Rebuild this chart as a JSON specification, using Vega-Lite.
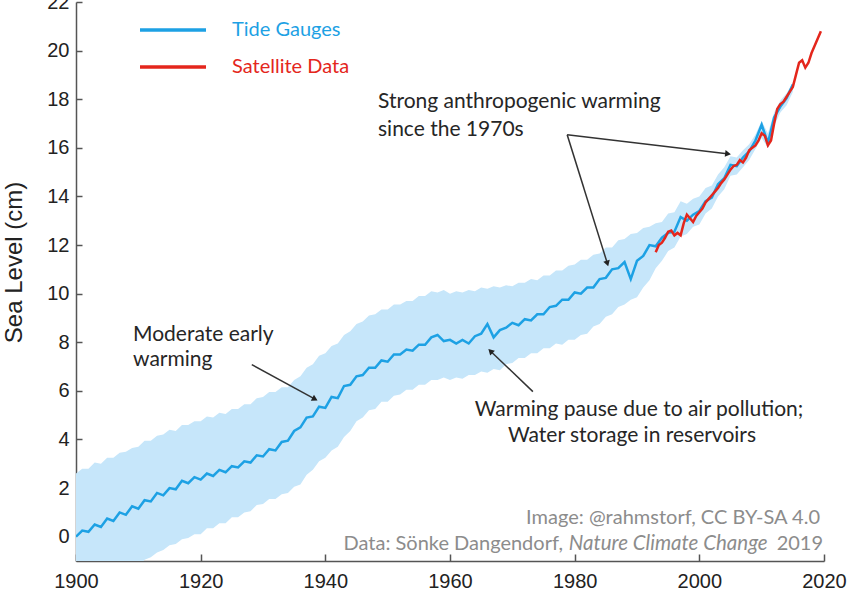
{
  "$schema": "https://vega.github.io/schema/vega-lite/v6.json",
  "width": 748,
  "height": 559,
  "autosize": {"type": "none"},
  "padding": {"left": 76, "top": 2, "right": 26, "bottom": 31},
  "background": "white",
  "config": {"view": {"stroke": null}},
  "datasets": {
    "tg": [
      {"year":1900,"level":0.0,"lo":-2.6,"hi":2.6},
      {"year":1901,"level":0.25,"lo":-2.45,"hi":2.8},
      {"year":1902,"level":0.2,"lo":-2.35,"hi":2.8},
      {"year":1903,"level":0.5,"lo":-2.15,"hi":3.05},
      {"year":1904,"level":0.4,"lo":-2.1,"hi":3.0},
      {"year":1905,"level":0.75,"lo":-1.9,"hi":3.25},
      {"year":1906,"level":0.65,"lo":-1.85,"hi":3.25},
      {"year":1907,"level":1.0,"lo":-1.6,"hi":3.45},
      {"year":1908,"level":0.9,"lo":-1.55,"hi":3.5},
      {"year":1909,"level":1.25,"lo":-1.35,"hi":3.65},
      {"year":1910,"level":1.15,"lo":-1.25,"hi":3.7},
      {"year":1911,"level":1.5,"lo":-0.95,"hi":3.95},
      {"year":1912,"level":1.45,"lo":-0.85,"hi":3.95},
      {"year":1913,"level":1.8,"lo":-0.65,"hi":4.15},
      {"year":1914,"level":1.7,"lo":-0.55,"hi":4.2},
      {"year":1915,"level":2.0,"lo":-0.35,"hi":4.4},
      {"year":1916,"level":1.95,"lo":-0.3,"hi":4.35},
      {"year":1917,"level":2.3,"lo":-0.1,"hi":4.6},
      {"year":1918,"level":2.2,"lo":-0.05,"hi":4.6},
      {"year":1919,"level":2.45,"lo":0.1,"hi":4.75},
      {"year":1920,"level":2.35,"lo":0.1,"hi":4.75},
      {"year":1921,"level":2.6,"lo":0.35,"hi":4.95},
      {"year":1922,"level":2.5,"lo":0.35,"hi":4.9},
      {"year":1923,"level":2.75,"lo":0.55,"hi":5.1},
      {"year":1924,"level":2.65,"lo":0.55,"hi":5.05},
      {"year":1925,"level":2.9,"lo":0.8,"hi":5.25},
      {"year":1926,"level":2.85,"lo":0.8,"hi":5.25},
      {"year":1927,"level":3.1,"lo":1.0,"hi":5.45},
      {"year":1928,"level":3.05,"lo":1.05,"hi":5.45},
      {"year":1929,"level":3.35,"lo":1.3,"hi":5.7},
      {"year":1930,"level":3.3,"lo":1.35,"hi":5.75},
      {"year":1931,"level":3.6,"lo":1.55,"hi":5.95},
      {"year":1932,"level":3.55,"lo":1.55,"hi":5.95},
      {"year":1933,"level":3.9,"lo":1.75,"hi":6.15},
      {"year":1934,"level":3.95,"lo":1.8,"hi":6.15},
      {"year":1935,"level":4.35,"lo":2.05,"hi":6.45},
      {"year":1936,"level":4.5,"lo":2.15,"hi":6.6},
      {"year":1937,"level":4.9,"lo":2.55,"hi":6.95},
      {"year":1938,"level":4.95,"lo":2.75,"hi":7.1},
      {"year":1939,"level":5.35,"lo":3.1,"hi":7.45},
      {"year":1940,"level":5.3,"lo":3.25,"hi":7.55},
      {"year":1941,"level":5.75,"lo":3.55,"hi":7.85},
      {"year":1942,"level":5.7,"lo":3.7,"hi":7.95},
      {"year":1943,"level":6.2,"lo":4.1,"hi":8.3},
      {"year":1944,"level":6.25,"lo":4.35,"hi":8.45},
      {"year":1945,"level":6.6,"lo":4.75,"hi":8.75},
      {"year":1946,"level":6.65,"lo":4.9,"hi":8.85},
      {"year":1947,"level":6.95,"lo":5.2,"hi":9.1},
      {"year":1948,"level":6.95,"lo":5.25,"hi":9.15},
      {"year":1949,"level":7.25,"lo":5.55,"hi":9.35},
      {"year":1950,"level":7.2,"lo":5.55,"hi":9.35},
      {"year":1951,"level":7.5,"lo":5.8,"hi":9.55},
      {"year":1952,"level":7.5,"lo":5.85,"hi":9.55},
      {"year":1953,"level":7.7,"lo":6.05,"hi":9.7},
      {"year":1954,"level":7.65,"lo":6.05,"hi":9.7},
      {"year":1955,"level":7.9,"lo":6.25,"hi":9.9},
      {"year":1956,"level":7.9,"lo":6.25,"hi":9.9},
      {"year":1957,"level":8.2,"lo":6.45,"hi":10.1},
      {"year":1958,"level":8.3,"lo":6.45,"hi":10.05},
      {"year":1959,"level":8.05,"lo":6.55,"hi":10.15},
      {"year":1960,"level":8.1,"lo":6.45,"hi":10.0},
      {"year":1961,"level":7.95,"lo":6.55,"hi":10.1},
      {"year":1962,"level":8.1,"lo":6.5,"hi":10.05},
      {"year":1963,"level":7.95,"lo":6.65,"hi":10.15},
      {"year":1964,"level":8.25,"lo":6.65,"hi":10.1},
      {"year":1965,"level":8.35,"lo":6.8,"hi":10.25},
      {"year":1966,"level":8.75,"lo":6.75,"hi":10.2},
      {"year":1967,"level":8.2,"lo":6.9,"hi":10.3},
      {"year":1968,"level":8.5,"lo":6.85,"hi":10.25},
      {"year":1969,"level":8.6,"lo":7.1,"hi":10.35},
      {"year":1970,"level":8.8,"lo":7.15,"hi":10.3},
      {"year":1971,"level":8.7,"lo":7.35,"hi":10.45},
      {"year":1972,"level":8.95,"lo":7.35,"hi":10.45},
      {"year":1973,"level":8.9,"lo":7.55,"hi":10.6},
      {"year":1974,"level":9.15,"lo":7.55,"hi":10.55},
      {"year":1975,"level":9.15,"lo":7.75,"hi":10.75},
      {"year":1976,"level":9.45,"lo":7.75,"hi":10.75},
      {"year":1977,"level":9.5,"lo":7.95,"hi":10.95},
      {"year":1978,"level":9.75,"lo":7.9,"hi":10.95},
      {"year":1979,"level":9.75,"lo":8.1,"hi":11.15},
      {"year":1980,"level":10.05,"lo":8.1,"hi":11.2},
      {"year":1981,"level":10.0,"lo":8.3,"hi":11.4},
      {"year":1982,"level":10.25,"lo":8.35,"hi":11.4},
      {"year":1983,"level":10.25,"lo":8.65,"hi":11.6},
      {"year":1984,"level":10.6,"lo":8.75,"hi":11.65},
      {"year":1985,"level":10.65,"lo":9.05,"hi":11.9},
      {"year":1986,"level":11.0,"lo":9.15,"hi":11.9},
      {"year":1987,"level":11.05,"lo":9.45,"hi":12.2},
      {"year":1988,"level":11.3,"lo":9.55,"hi":12.25},
      {"year":1989,"level":10.6,"lo":9.75,"hi":12.45},
      {"year":1990,"level":11.35,"lo":9.85,"hi":12.5},
      {"year":1991,"level":11.55,"lo":10.25,"hi":12.7},
      {"year":1992,"level":12.0,"lo":10.55,"hi":12.75},
      {"year":1993,"level":11.95,"lo":11.05,"hi":12.9},
      {"year":1994,"level":12.3,"lo":11.35,"hi":12.95},
      {"year":1995,"level":12.5,"lo":11.75,"hi":13.3},
      {"year":1996,"level":12.55,"lo":11.9,"hi":13.35},
      {"year":1997,"level":13.15,"lo":12.35,"hi":13.8},
      {"year":1998,"level":13.0,"lo":12.45,"hi":13.7},
      {"year":1999,"level":13.25,"lo":12.75,"hi":13.9},
      {"year":2000,"level":13.4,"lo":12.85,"hi":14.0},
      {"year":2001,"level":13.8,"lo":13.3,"hi":14.35},
      {"year":2002,"level":13.95,"lo":13.5,"hi":14.45},
      {"year":2003,"level":14.5,"lo":14.0,"hi":14.9},
      {"year":2004,"level":14.75,"lo":14.3,"hi":15.2},
      {"year":2005,"level":15.3,"lo":14.85,"hi":15.65},
      {"year":2006,"level":15.25,"lo":14.9,"hi":15.6},
      {"year":2007,"level":15.6,"lo":15.2,"hi":15.9},
      {"year":2008,"level":15.85,"lo":15.5,"hi":16.15},
      {"year":2009,"level":16.3,"lo":15.95,"hi":16.55},
      {"year":2010,"level":16.95,"lo":16.4,"hi":17.1},
      {"year":2011,"level":16.2,"lo":16.0,"hi":16.6},
      {"year":2012,"level":17.25,"lo":16.9,"hi":17.45},
      {"year":2013,"level":17.7,"lo":17.45,"hi":17.95},
      {"year":2014,"level":18.05,"lo":17.75,"hi":18.25},
      {"year":2015,"level":18.6,"lo":18.3,"hi":18.7}
    ],
    "sat": [
      {"year":1993.0,"level":11.7},{"year":1993.5,"level":12.0},{"year":1994.0,"level":12.1},{"year":1994.5,"level":12.3},
      {"year":1995.0,"level":12.55},{"year":1995.5,"level":12.6},{"year":1996.0,"level":12.4},{"year":1996.5,"level":12.5},
      {"year":1997.0,"level":12.4},{"year":1997.5,"level":12.9},{"year":1998.0,"level":13.25},{"year":1998.5,"level":13.1},
      {"year":1999.0,"level":12.95},{"year":1999.5,"level":13.2},{"year":2000.0,"level":13.35},{"year":2000.5,"level":13.5},
      {"year":2001.0,"level":13.75},{"year":2001.5,"level":13.9},{"year":2002.0,"level":14.05},{"year":2002.5,"level":14.2},
      {"year":2003.0,"level":14.35},{"year":2003.5,"level":14.55},{"year":2004.0,"level":14.7},{"year":2004.5,"level":14.9},
      {"year":2005.0,"level":15.1},{"year":2005.5,"level":15.25},{"year":2006.0,"level":15.3},{"year":2006.5,"level":15.5},
      {"year":2007.0,"level":15.4},{"year":2007.5,"level":15.6},{"year":2008.0,"level":15.9},{"year":2008.5,"level":16.0},
      {"year":2009.0,"level":16.1},{"year":2009.5,"level":16.3},{"year":2010.0,"level":16.6},{"year":2010.5,"level":16.5},
      {"year":2011.0,"level":16.1},{"year":2011.5,"level":16.3},{"year":2012.0,"level":17.0},{"year":2012.5,"level":17.6},
      {"year":2013.0,"level":17.8},{"year":2013.5,"level":17.9},{"year":2014.0,"level":18.1},{"year":2014.5,"level":18.3},
      {"year":2015.0,"level":18.5},{"year":2015.5,"level":19.0},{"year":2016.0,"level":19.5},{"year":2016.5,"level":19.6},
      {"year":2017.0,"level":19.3},{"year":2017.5,"level":19.5},{"year":2018.0,"level":19.9},{"year":2018.5,"level":20.2},
      {"year":2019.0,"level":20.5},{"year":2019.5,"level":20.8}
    ],
    "arrows": [
      {"id":"a1","x1":1928.2,"y1":7.08,"x2":1938.2,"y2":5.68},
      {"id":"a2","x1":1973.3,"y1":5.97,"x2":1966.6,"y2":7.61},
      {"id":"a3","x1":1978.8,"y1":16.54,"x2":1985.2,"y2":11.28},
      {"id":"a4","x1":1978.8,"y1":16.54,"x2":2004.45,"y2":15.76}
    ],
    "notesLeft": [
      {"x":1948.45,"y":17.9,"t":"Strong anthropogenic warming"},
      {"x":1948.45,"y":16.75,"t":"since the 1970s"},
      {"x":1909.15,"y":8.31,"t":"Moderate early"},
      {"x":1909.15,"y":7.28,"t":"warming"}
    ],
    "notesCenter": [
      {"x":1990.33,"y":5.23,"t":"Warming pause due to air pollution;"},
      {"x":1989.2,"y":4.16,"t":"Water storage in reservoirs"}
    ],
    "credits": [
      {"x":2019.36,"y":0.78,"t":"Image: @rahmstorf, CC BY-SA 4.0"},
      {"x":1978.13,"y":-0.29,"t":"Data: Sönke Dangendorf,"},
      {"x":2019.85,"y":-0.29,"t":"2019"}
    ],
    "creditsItalic": [
      {"x":1995.0,"y":-0.29,"t":"Nature Climate Change"}
    ]
  },
  "layer": [
    {
      "data": {"name": "tg"},
      "mark": {"type": "area", "color": "#c6e6fa", "opacity": 1, "clip": true},
      "encoding": {
        "x": {"field": "year", "type": "quantitative",
          "scale": {"domain": [1900, 2020], "nice": false, "zero": false},
          "axis": {"values": [1900,1920,1940,1960,1980,2000,2020], "format": "d", "title": null, "grid": false,
            "domainColor": "#555", "domainWidth": 1.5, "tickColor": "#555", "tickWidth": 1.5, "tickSize": -7,
            "labelFont": "Liberation Sans", "labelFontSize": 20, "labelColor": "#222", "labelPadding": 17, "labelFlush": false}},
        "y": {"field": "hi", "type": "quantitative",
          "scale": {"domain": [-1, 22], "nice": false, "zero": false},
          "axis": {"values": [0,2,4,6,8,10,12,14,16,18,20,22], "title": "Sea Level (cm)", "grid": false,
            "domainColor": "#555", "domainWidth": 1.5, "tickColor": "#555", "tickWidth": 1.5, "tickSize": -6,
            "labelFont": "Liberation Sans", "labelFontSize": 20, "labelColor": "#222", "labelPadding": 13,
            "titleFont": "Liberation Sans", "titleFontSize": 24, "titleFontWeight": "normal", "titleColor": "#222",
            "titleX": -62, "titleY": 260, "titleAlign": "center", "titleBaseline": "middle"}},
        "y2": {"field": "lo"}
      }
    },
    {
      "data": {"name": "tg"},
      "mark": {"type": "line", "strokeWidth": 2.5, "clip": true},
      "encoding": {
        "x": {"field": "year", "type": "quantitative"},
        "y": {"field": "level", "type": "quantitative"},
        "color": {"datum": "Tide Gauges",
          "scale": {"domain": ["Tide Gauges", "Satellite Data"], "range": ["#1da1e4", "#e4261c"]},
          "legend": {"orient": "none", "legendX": 84, "legendY": 15, "title": null, "direction": "vertical",
            "symbolType": "M-3,0H3", "symbolSize": 484, "symbolStrokeWidth": 3.5,
            "labelFont": "Lato", "labelFontSize": 20, "labelOffset": 46, "rowPadding": 14,
            "encode": {"labels": {"update": {"fill": {"scale": "color", "field": "value"}}}}}}
      }
    },
    {
      "data": {"name": "sat"},
      "mark": {"type": "line", "strokeWidth": 2.5, "clip": true},
      "encoding": {
        "x": {"field": "year", "type": "quantitative"},
        "y": {"field": "level", "type": "quantitative"},
        "color": {"datum": "Satellite Data"}
      }
    },
    {
      "data": {"name": "arrows"},
      "mark": {"type": "rule", "color": "#333", "strokeWidth": 1.5},
      "encoding": {
        "x": {"field": "x1", "type": "quantitative"},
        "y": {"field": "y1", "type": "quantitative"},
        "x2": {"field": "x2"},
        "y2": {"field": "y2"}
      }
    },
    {
      "data": {"name": "arrows"},
      "transform": [{"filter": "datum.id === 'a1'"}],
      "mark": {"type": "point", "shape": "triangle", "filled": true, "color": "#222", "size": 45, "angle": 118, "opacity": 1},
      "encoding": {"x": {"field": "x2", "type": "quantitative"}, "y": {"field": "y2", "type": "quantitative"}}
    },
    {
      "data": {"name": "arrows"},
      "transform": [{"filter": "datum.id === 'a2'"}],
      "mark": {"type": "point", "shape": "triangle", "filled": true, "color": "#222", "size": 45, "angle": 314, "opacity": 1},
      "encoding": {"x": {"field": "x2", "type": "quantitative"}, "y": {"field": "y2", "type": "quantitative"}}
    },
    {
      "data": {"name": "arrows"},
      "transform": [{"filter": "datum.id === 'a3'"}],
      "mark": {"type": "point", "shape": "triangle", "filled": true, "color": "#222", "size": 45, "angle": 163, "opacity": 1},
      "encoding": {"x": {"field": "x2", "type": "quantitative"}, "y": {"field": "y2", "type": "quantitative"}}
    },
    {
      "data": {"name": "arrows"},
      "transform": [{"filter": "datum.id === 'a4'"}],
      "mark": {"type": "point", "shape": "triangle", "filled": true, "color": "#222", "size": 45, "angle": 97, "opacity": 1},
      "encoding": {"x": {"field": "x2", "type": "quantitative"}, "y": {"field": "y2", "type": "quantitative"}}
    },
    {
      "data": {"name": "notesLeft"},
      "mark": {"type": "text", "align": "left", "baseline": "middle", "font": "Lato", "fontSize": 21, "color": "#262626"},
      "encoding": {"x": {"field": "x", "type": "quantitative"}, "y": {"field": "y", "type": "quantitative"}, "text": {"field": "t"}}
    },
    {
      "data": {"name": "notesCenter"},
      "mark": {"type": "text", "align": "center", "baseline": "middle", "font": "Lato", "fontSize": 21, "color": "#262626"},
      "encoding": {"x": {"field": "x", "type": "quantitative"}, "y": {"field": "y", "type": "quantitative"}, "text": {"field": "t"}}
    },
    {
      "data": {"name": "credits"},
      "mark": {"type": "text", "align": "right", "baseline": "middle", "font": "Lato", "fontSize": 20, "color": "#8c8c8c"},
      "encoding": {"x": {"field": "x", "type": "quantitative"}, "y": {"field": "y", "type": "quantitative"}, "text": {"field": "t"}}
    },
    {
      "data": {"name": "creditsItalic"},
      "mark": {"type": "text", "align": "center", "baseline": "middle", "font": "Lato", "fontSize": 20.5, "fontStyle": "italic", "color": "#8c8c8c"},
      "encoding": {"x": {"field": "x", "type": "quantitative"}, "y": {"field": "y", "type": "quantitative"}, "text": {"field": "t"}}
    }
  ]
}
